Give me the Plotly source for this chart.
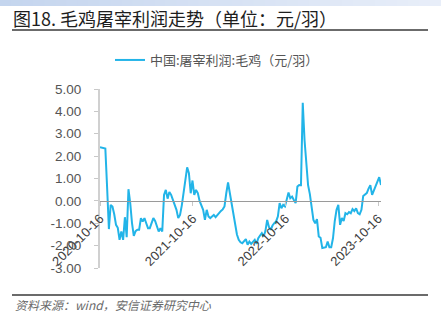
import plotly.graph_objects as go
import pandas as pd

W, H = 441, 331

# ---- data (weekly) ----
start_date = "2020-10-16"
profit = [
    2.40, 2.38, 2.36, 2.34, 0.60, -1.26, -0.18, -0.25, -0.60, -1.07,
    -1.20, -1.74, -1.37, -1.74, -0.73, -1.62, 0.52, -0.10, -1.00, -1.56,
    -1.35, -1.29, -1.29, -0.77, -0.92, -0.77, -1.00, -1.22, -1.22, -1.00,
    -0.77, -0.90, -1.20, -1.37, -1.22, -1.37, 0.27, 0.49, 0.10, 0.40,
    0.27, 0.04, -0.10, -0.40, -0.77, -0.63, -0.20, 0.30, 0.79, 1.50,
    1.24, 0.34, 0.91, 0.27, 0.49, 0.35, 0.00, -0.18, -0.40, -0.85,
    -0.40, -0.70, -0.77, -0.70, -0.63, -0.73, -0.63, -0.50, -0.45, -0.38,
    -0.25, 0.34, 0.82, 0.35, -0.15, -0.50, -1.20, -1.50, -1.74, -1.85,
    -1.89, -1.82, -1.71, -1.96, -1.82, -1.92, -1.80, -1.74, -1.92, -1.67,
    -1.55, -1.44, -1.59, -1.35, -0.85, -1.17, -1.29, -1.10, -1.00, -0.92,
    -0.70, -0.10, -0.33, -0.18, -0.25, 0.10, 0.37, 0.12, 0.19, 0.04,
    -0.10, 0.64, 0.71, 0.70, 4.38, 2.72, 1.50, 0.70, 0.30, -0.30,
    -0.85, -1.00, -0.82, -1.59, -1.65, -2.11, -2.09, -2.07, -1.82, -2.07,
    -2.07, -1.67, -0.90, -0.40, -0.18, -1.07, -0.77, -0.90, -0.55, -0.60,
    -0.50, -0.55, -0.37, -0.46, -0.33, -0.55, -0.60, -0.40, 0.22, 0.28,
    0.35, 0.55, 0.70, 0.27, 0.46, 0.64, 0.90, 1.06, 0.71,
]
dates = pd.date_range(start_date, periods=len(profit), freq="7D")

x_tick_dates = ["2020-10-16", "2021-10-16", "2022-10-16", "2023-10-16"]
x_tick_text = ["2020-10-16", "2021-10-16", "2022-10-16", "2023-10-16"]
y_tick_vals = [5, 4, 3, 2, 1, 0, -1, -2, -3]
y_tick_text = ["5.00", "4.00", "3.00", "2.00", "1.00", "0.00", "-1.00", "-2.00", "-3.00"]

series_name = "中国:屠宰利润:毛鸡（元/羽）"
title_text = "图18. 毛鸡屠宰利润走势（单位：元/羽）"
source_text = "资料来源：wind，安信证券研究中心"

# ---- layout geometry (pixels) ----
plot_l, plot_r = 100, 381
plot_t, plot_b = 89, 268
y_min, y_max = -3, 5
xdom = [plot_l / W, plot_r / W]
ydom = [1 - plot_b / H, 1 - plot_t / H]
zero_pos = ydom[0] + (0 - y_min) / (y_max - y_min) * (ydom[1] - ydom[0])

CJK = "Noto Sans CJK SC, Noto Sans, sans-serif"
LAT = "Liberation Sans, Arial, sans-serif"

fig = go.Figure()
fig.add_trace(go.Scatter(
    x=dates, y=profit, mode="lines", name=series_name,
    line=dict(color="#22b4e8", width=2),
))

shapes = []
# gradient band on top
n = 40
c0 = (196, 213, 238)
c1 = (232, 238, 249)
for i in range(n):
    t = i / (n - 1)
    col = tuple(round(c0[k] + (c1[k] - c0[k]) * t) for k in range(3))
    shapes.append(dict(type="rect", xref="paper", yref="paper",
                       x0=i / n, x1=(i + 1) / n + 0.002, y0=1 - 6 / H, y1=1,
                       line=dict(width=0), fillcolor="rgb(%d,%d,%d)" % col, layer="below"))
# title underline and footer line
shapes.append(dict(type="line", xref="paper", yref="paper", x0=12 / W, x1=428 / W,
                   y0=1 - 30 / H, y1=1 - 30 / H, line=dict(color="#3a3a3a", width=1.6)))
shapes.append(dict(type="line", xref="paper", yref="paper", x0=12 / W, x1=428 / W,
                   y0=1 - 295 / H, y1=1 - 295 / H, line=dict(color="#3a3a3a", width=1.6)))

annotations = [
    dict(text=title_text, xref="paper", yref="paper", x=11 / W, y=1 - 18 / H,
         xanchor="left", yanchor="middle", showarrow=False,
         font=dict(family=CJK, size=18, color="#1e1e1e")),
    dict(text="<i>" + source_text + "</i>", xref="paper", yref="paper", x=13 / W, y=1 - 304 / H,
         xanchor="left", yanchor="middle", showarrow=False,
         font=dict(family=CJK, size=12, color="#6a6a6a")),
]

fig.update_layout(
    width=W, height=H,
    margin=dict(l=0, r=0, t=0, b=0, autoexpand=False),
    paper_bgcolor="white", plot_bgcolor="white",
    shapes=shapes, annotations=annotations,
    showlegend=True,
    legend=dict(orientation="h", xref="container", yref="container",
                x=110 / W, y=1 - 45 / H, xanchor="left", yanchor="top",
                font=dict(family=CJK, size=13, color="#555555"),
                bgcolor="rgba(0,0,0,0)"),
    xaxis=dict(domain=xdom, anchor="free", position=zero_pos,
               range=[dates[0], dates[-1]], type="date",
               showgrid=False, zeroline=False,
               showline=True, linecolor="#9a9a9a", linewidth=1.2,
               tickmode="array", tickvals=x_tick_dates, ticktext=x_tick_text,
               tickangle=-45, ticks="outside", ticklen=4, tickcolor="#c8c8c8",
               tickfont=dict(family=LAT, size=13, color="#404040")),
    yaxis=dict(domain=ydom, range=[y_min, y_max],
               showgrid=False, zeroline=False,
               showline=True, linecolor="#d0d0d0", linewidth=2,
               tickmode="array", tickvals=y_tick_vals, ticktext=y_tick_text,
               ticks="outside", ticklen=4, tickcolor="#c8c8c8",
               ticklabelstandoff=10,
               tickfont=dict(family=LAT, size=13.5, color="#555555")),
)

fig.write_html("out.html")
